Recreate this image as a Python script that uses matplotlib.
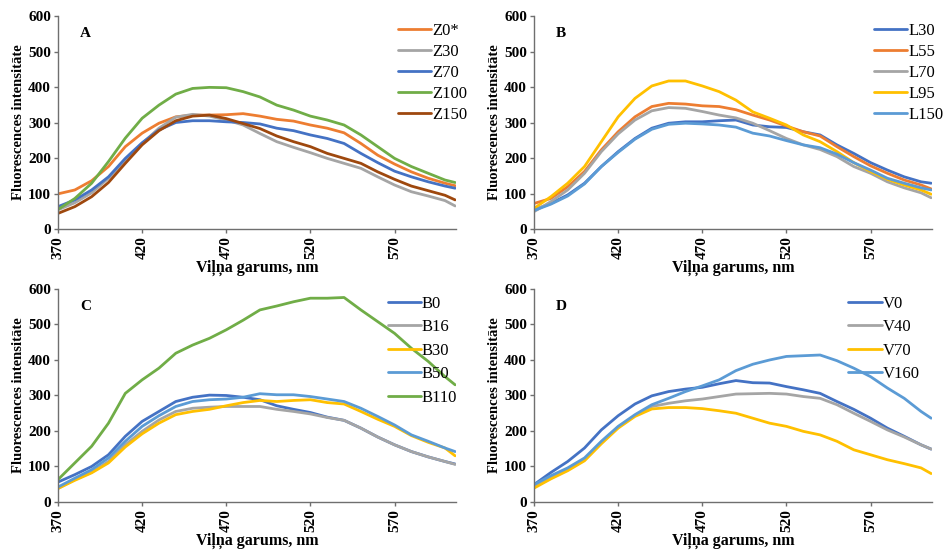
import matplotlib
matplotlib.use("Agg")
import matplotlib.pyplot as plt

plt.rcParams['font.family'] = ['Liberation Serif', 'DejaVu Serif']

# wavelengths, nm
wl = [370, 380, 390, 400, 410, 420, 430, 440, 450, 460, 470, 480,
      490, 500, 510, 520, 530, 540, 550, 560, 570, 580, 590, 600, 606]

# --- A ---
z_labels = ['Z0*', 'Z30', 'Z70', 'Z100', 'Z150']
z0 = [99, 110, 136, 176, 232, 270, 298, 316, 321, 321, 322, 325,
      318, 309, 304, 293, 284, 271, 241, 208, 183, 161, 143, 129, 122]
z30 = [54, 74, 102, 143, 194, 241, 284, 315, 323, 318, 307, 293,
       269, 246, 230, 215, 199, 185, 171, 147, 124, 105, 93, 80, 65]
z70 = [63, 82, 110, 147, 199, 243, 279, 300, 305, 305, 302, 300,
       296, 284, 277, 265, 255, 241, 213, 187, 163, 147, 133, 121, 115]
z100 = [55, 86, 129, 190, 256, 312, 349, 380, 396, 399, 398, 387,
        372, 349, 335, 318, 307, 293, 265, 232, 199, 176, 157, 138, 131]
z150 = [44, 63, 91, 131, 185, 237, 277, 305, 318, 321, 311, 297,
        283, 262, 246, 232, 213, 199, 185, 161, 140, 121, 108, 95, 82]

# --- B ---
l_labels = ['L30', 'L55', 'L70', 'L95', 'L150']
l30 = [54, 72, 96, 129, 176, 218, 255, 284, 298, 302, 302, 305,
       307, 293, 288, 286, 274, 265, 237, 213, 187, 166, 147, 133, 129]
l55 = [72, 86, 119, 162, 223, 274, 316, 345, 354, 352, 347, 345,
       336, 321, 307, 290, 274, 262, 232, 204, 178, 157, 138, 124, 113]
l70 = [49, 77, 110, 157, 218, 268, 307, 333, 342, 340, 331, 321,
       313, 298, 277, 255, 237, 224, 204, 176, 157, 133, 116, 102, 88]
l95 = [58, 91, 129, 176, 246, 316, 368, 403, 417, 417, 403, 387,
       363, 330, 312, 293, 265, 246, 218, 187, 162, 140, 124, 110, 98]
l150 = [52, 70, 93, 127, 176, 216, 253, 281, 295, 298, 296, 293,
        287, 270, 262, 249, 237, 229, 211, 187, 166, 143, 129, 116, 110]

# --- C ---
b_labels = ['B0', 'B16', 'B30', 'B50', 'B110']
b0 = [56, 77, 100, 133, 185, 227, 255, 283, 295, 301, 300, 295,
      288, 271, 261, 252, 239, 230, 208, 183, 161, 142, 127, 114, 107]
b16 = [38, 63, 84, 114, 161, 199, 231, 255, 264, 267, 269, 269,
       269, 261, 255, 248, 238, 230, 208, 183, 161, 142, 127, 114, 106]
b30 = [38, 61, 82, 110, 155, 192, 222, 246, 255, 261, 271, 280,
       286, 283, 286, 288, 280, 276, 255, 233, 213, 187, 168, 152, 130]
b50 = [42, 67, 91, 124, 171, 213, 243, 269, 283, 288, 290, 295,
       305, 302, 302, 297, 290, 283, 264, 241, 217, 189, 171, 152, 142]
b110 = [63, 110, 157, 222, 306, 344, 377, 419, 442, 461, 485, 512,
        541, 552, 564, 574, 574, 576, 541, 508, 475, 433, 396, 353, 330]

# --- D ---
v_labels = ['V0', 'V40', 'V70', 'V160']
v0 = [49, 83, 114, 152, 203, 243, 276, 299, 311, 318, 323, 333,
      342, 336, 335, 325, 316, 306, 283, 261, 236, 208, 185, 161, 149]
v40 = [44, 67, 91, 119, 166, 211, 243, 269, 278, 285, 290, 297,
       304, 305, 306, 304, 297, 292, 274, 250, 227, 203, 183, 161, 149]
v70 = [39, 65, 88, 116, 164, 208, 241, 262, 266, 266, 263, 257,
       250, 236, 222, 213, 199, 189, 171, 147, 133, 119, 108, 96, 80]
v160 = [49, 74, 96, 124, 171, 213, 246, 274, 292, 311, 327, 344,
        370, 388, 400, 410, 412, 414, 398, 377, 353, 321, 292, 255, 236]

BLUE, ORANGE, GRAY, YELLOW = '#4472C4', '#ED7D31', '#A5A5A5', '#FFC000'
LBLUE, GREEN, BROWN = '#5B9BD5', '#70AD47', '#9E480E'

panels = [
    ('A', [0.0613, 0.5836], z_labels, [z0, z30, z70, z100, z150],
     [ORANGE, GRAY, BLUE, GREEN, BROWN], (1.045, 1.0), 0.30),
    ('B', [0.5645, 0.5836], l_labels, [l30, l55, l70, l95, l150],
     [BLUE, ORANGE, GRAY, YELLOW, LBLUE], (1.045, 1.0), 0.30),
    ('C', [0.0613, 0.0873], b_labels, [b0, b16, b30, b50, b110],
     [BLUE, GRAY, YELLOW, LBLUE, GREEN], (1.02, 1.0), 0.45),
    ('D', [0.5645, 0.0873], v_labels, [v0, v40, v70, v160],
     [BLUE, GRAY, YELLOW, LBLUE], (0.985, 1.0), 0.45),
]

fig = plt.figure(figsize=(9.46, 5.5), dpi=100)

for letter, (x0, y0), labels, series, colors, anchor, lspace in panels:
    ax = fig.add_axes([x0, y0, 0.4207, 0.3873])
    for lab, vals, c in zip(labels, series, colors):
        ax.plot(wl, vals, color=c, lw=2.0, label=lab, solid_capstyle='round')
    ax.set_xlim(370, 606.5)
    ax.set_ylim(0, 600)
    ax.set_xticks([370, 420, 470, 520, 570])
    ax.set_yticks(range(0, 601, 100))
    for s in ['top', 'right']:
        ax.spines[s].set_visible(False)
    for s in ['left', 'bottom']:
        ax.spines[s].set_color('#6f6f6f')
        ax.spines[s].set_linewidth(1.0)
    ax.tick_params(axis='both', direction='out', length=3, width=1.0,
                   color='#6f6f6f', labelsize=11, pad=2)
    for t in ax.get_xticklabels():
        t.set_rotation(90)
        t.set_fontweight('bold')
    for t in ax.get_yticklabels():
        t.set_fontweight('bold')
    ax.set_xlabel('Viļņa garums, nm', fontsize=11.5, fontweight='bold', labelpad=1)
    ax.set_ylabel('Fluorescences intensitāte', fontsize=10.5, fontweight='bold', labelpad=2)
    ax.text(0.055, 0.92, letter, transform=ax.transAxes, fontsize=11,
            fontweight='bold', va='center', ha='left')
    ax.legend(loc='upper right', bbox_to_anchor=anchor, frameon=False,
              fontsize=12, handlelength=2.0, handletextpad=0.05,
              labelspacing=lspace, borderaxespad=0.0)

fig.savefig('out.png', dpi=100)
